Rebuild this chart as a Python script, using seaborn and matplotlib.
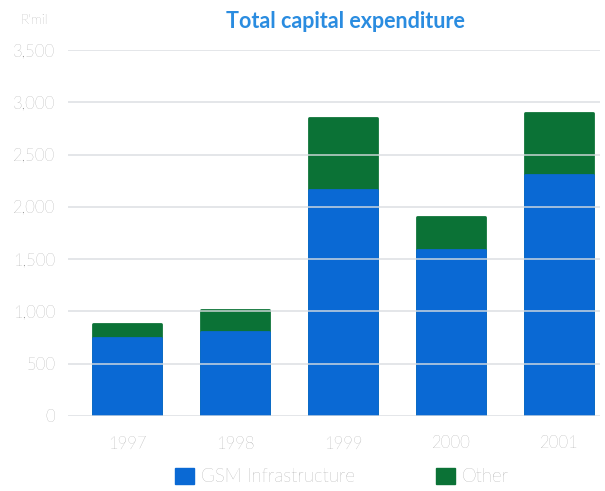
import matplotlib
matplotlib.use("Agg")
import matplotlib.pyplot as plt
import seaborn as sns
import pandas as pd
import numpy as np

years = ["1997", "1998", "1999", "2000", "2001"]
gsm = [750, 800, 2160, 1590, 2300]
other = [130, 210, 690, 315, 600]
yticks = [0, 500, 1000, 1500, 2000, 2500, 3000, 3500]
ytick_labels = ["0", "500", "1,000", "1,500", "2,000", "2,500", "3,000", "3,500"]

BLUE = "#0a69d4"
GREEN = "#0b7236"
GREY = "#808080"

sns.set_theme(style="white")
plt.rcParams["font.family"] = ["Lato", "DejaVu Sans"]

df = pd.DataFrame({"year": years, "gsm": gsm, "other": other})
df["total"] = df["gsm"] + df["other"]

fig = plt.figure(figsize=(6.05, 4.91), dpi=100)
ax = fig.add_axes([68 / 605, (491 - 416) / 491, (600 - 68) / 605, (416 - 50) / 491])

sns.barplot(data=df, x="year", y="total", color=GREEN, width=0.63, saturation=1,
            ax=ax, linewidth=2.0, edgecolor=GREEN)
sns.barplot(data=df, x="year", y="gsm", color=BLUE, width=0.63, saturation=1,
            ax=ax, linewidth=2.0, edgecolor=BLUE)
for p in ax.patches:
    p.set_joinstyle("round")

ax.set_ylim(0, 3500)
ax.set_xlim(-0.546, 4.38)
ax.set_yticks(yticks)
ax.set_yticklabels(ytick_labels)
for y in yticks:
    ax.axhline(y, color="#d9dde0", lw=1.2, alpha=0.85, zorder=5)
ax.set_xlabel("")
ax.set_ylabel("")
for s in ax.spines.values():
    s.set_visible(False)
ax.tick_params(axis="both", length=0, colors=GREY, labelsize=12)
ax.tick_params(axis="x", pad=14)
ax.tick_params(axis="y", pad=9)
for lbl in ax.get_xticklabels() + ax.get_yticklabels():
    lbl.set_fontweight("light")

fig.text(345 / 605, 1 - 22 / 491, "Total capital expenditure", ha="center", va="center",
         color="#2a8ce0", fontsize=15.5, fontweight="bold")
fig.text(48 / 605, 1 - 20 / 491, "R'mil", ha="right", va="center", color=GREY,
         fontsize=10, fontweight="light")

from matplotlib.patches import Patch
handles = [Patch(facecolor=BLUE, edgecolor=BLUE), Patch(facecolor=GREEN, edgecolor=GREEN)]
leg = fig.legend(handles, ["GSM Infrastructure", "Other"], loc="center",
                 bbox_to_anchor=(342 / 605, 1 - 477 / 491), ncol=2, frameon=False,
                 fontsize=13.5, handlelength=1.0, handleheight=1.0, handletextpad=0.4,
                 columnspacing=4.3)
for t in leg.get_texts():
    t.set_color(GREY)
    t.set_fontweight("light")

fig.savefig("out.png", dpi=100)
